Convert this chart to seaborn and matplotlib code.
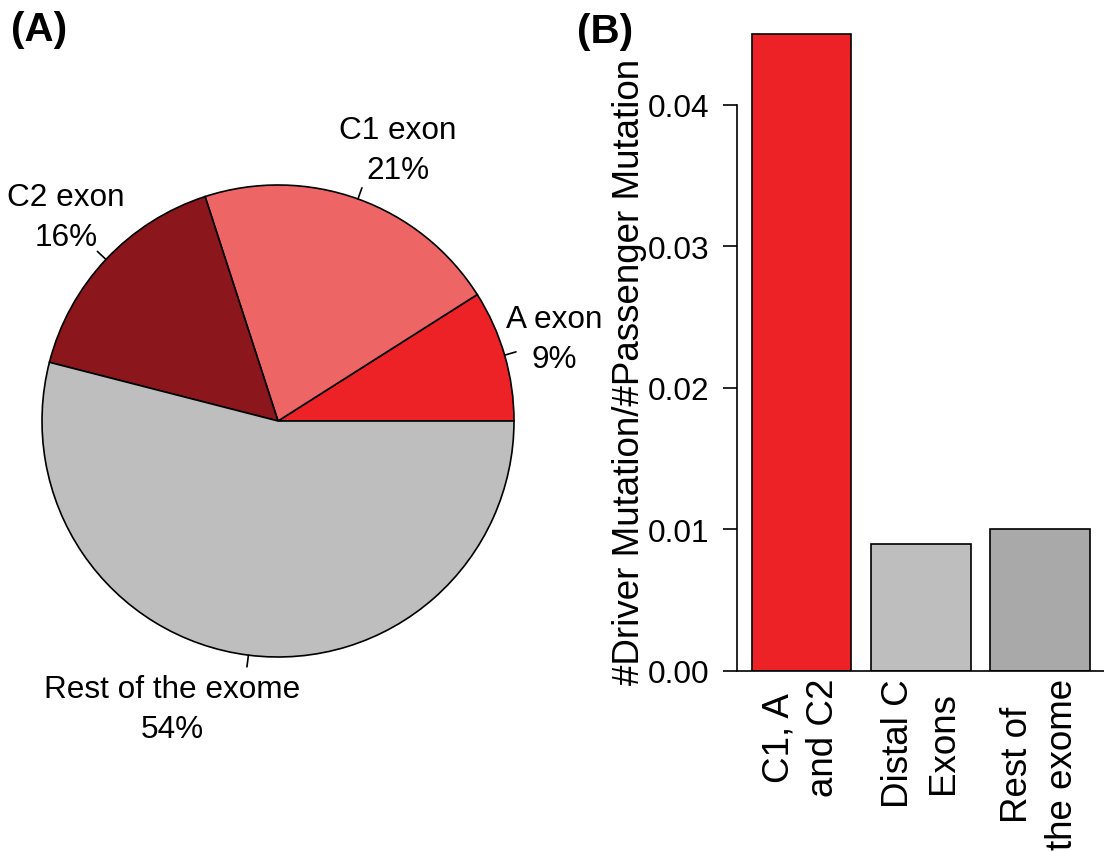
import numpy as np
import pandas as pd
import matplotlib
matplotlib.use("Agg")
import matplotlib.pyplot as plt
import seaborn as sns

# Panel A: share of mutations by exon region
pie_labels = ["A exon", "C1 exon", "C2 exon", "Rest of the exome"]
pie_percent = [9, 21, 16, 54]
pie_colors = ["#EC2227", "#EE6565", "#8B161B", "#BEBEBE"]

# Panel B: driver / passenger mutation ratio
bar_regions = ["C1, A\nand C2", "Distal C\nExons", "Rest of\nthe exome"]
bar_ratio = [0.045, 0.009, 0.010]
bar_colors = ["#EC2227", "#BEBEBE", "#A9A9A9"]
y_ticks = [0.00, 0.01, 0.02, 0.03, 0.04]

sns.set_style("white")
plt.rcParams["font.family"] = ["Liberation Sans", "DejaVu Sans"]
plt.rcParams["text.color"] = "black"
plt.rcParams["axes.labelcolor"] = "black"
plt.rcParams["xtick.color"] = "black"
plt.rcParams["ytick.color"] = "black"
FS = 22.7      # pie labels and y tick labels
FS_BIG = 26.5  # y axis title and category labels
W, H = 1104, 853

fig = plt.figure(figsize=(W / 100, H / 100), dpi=100)

# ---- pie ----
cx, cy, r = 278, 422, 236
ax1 = fig.add_axes([(cx - r) / W, (H - cy - r) / H, 2 * r / W, 2 * r / H])
wedges, _ = ax1.pie(pie_percent, colors=pie_colors, startangle=0,
                    counterclock=True,
                    wedgeprops=dict(edgecolor="black", linewidth=1.2))
ax1.set_xlim(-1, 1)
ax1.set_ylim(-1, 1)
ax1.set_aspect("equal")
ax1.axis("off")

# label block centres, in units of the pie radius
label_pos = [(1.169, 0.347), (0.508, 1.148), (-0.898, 0.864), (-0.449, -1.22)]
for w, lab, pct, (lx, ly) in zip(wedges, pie_labels, pie_percent, label_pos):
    mid = np.deg2rad((w.theta1 + w.theta2) / 2)
    ax1.plot([np.cos(mid), 1.05 * np.cos(mid)], [np.sin(mid), 1.05 * np.sin(mid)],
             color="black", lw=1.2, clip_on=False)
    ax1.text(lx, ly, f"{lab}\n{pct}%", ha="center", va="center",
             multialignment="center", fontsize=FS, linespacing=1.45,
             clip_on=False)

# ---- bars ----
x0, y0, ytop = 737, 672, 21
ax2 = fig.add_axes([x0 / W, (H - y0) / H, (W - x0) / W, (y0 - ytop) / H])
df = pd.DataFrame({"region": bar_regions, "ratio": bar_ratio})
sns.barplot(data=df, x="region", y="ratio", hue="region", palette=bar_colors,
            legend=False, width=0.833, saturation=1, edgecolor="black",
            linewidth=1.2, ax=ax2)
ax2.set_xlim(-0.54, 2.535)
ax2.set_ylim(0, 0.046)
for s in ["top", "right"]:
    ax2.spines[s].set_visible(False)
ax2.spines["left"].set_bounds(0, 0.04)
for s in ["left", "bottom"]:
    ax2.spines[s].set_color("black")
    ax2.spines[s].set_linewidth(1.2)
ax2.set_yticks(y_ticks)
ax2.set_yticklabels([f"{v:.2f}" for v in y_ticks], fontsize=FS)
ax2.tick_params(axis="y", length=10, width=1.2, pad=10, left=True)
ax2.tick_params(axis="x", length=0, pad=5)
ax2.set_xticks(range(len(bar_regions)))
ax2.set_xticklabels(bar_regions, rotation=90, fontsize=FS_BIG,
                    multialignment="center", linespacing=1.35)
ax2.set_xlabel("")
ax2.set_ylabel("#Driver Mutation/#Passenger Mutation", fontsize=FS_BIG)
ax2.yaxis.set_label_coords(-0.292, 0.461)
ax2.yaxis.label.set_va("center")

fig.text(39 / W, 1 - 30 / H, "(A)", fontsize=29, fontweight="bold",
         ha="center", va="center")
fig.text(605 / W, 1 - 32 / H, "(B)", fontsize=29, fontweight="bold",
         ha="center", va="center")

fig.savefig("out.png", dpi=100)
